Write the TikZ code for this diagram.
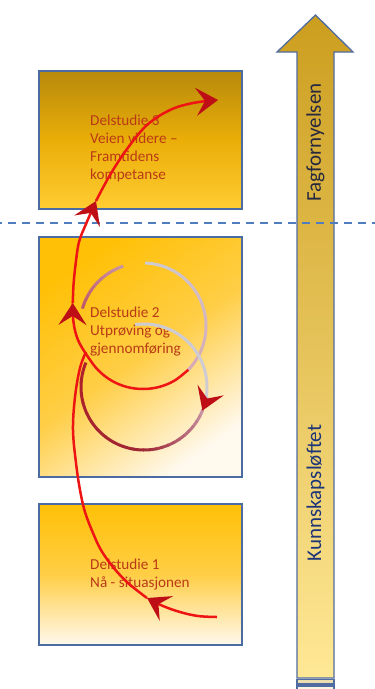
\documentclass[tikz,border=0pt]{standalone}
\usepackage{fontspec}
\setmainfont{Carlito}
\usetikzlibrary{arrows.meta}
\definecolor{boxline}{RGB}{74,108,162}
\definecolor{goldA}{RGB}{184,138,12}
\definecolor{goldB}{RGB}{234,174,8}
\definecolor{goldC}{RGB}{255,204,50}
\definecolor{goldD}{RGB}{255,192,6}
\definecolor{goldM}{RGB}{255,206,70}
\definecolor{paleend}{RGB}{255,249,238}
\definecolor{arrowtop}{RGB}{204,158,30}
\definecolor{arrowbot}{RGB}{255,232,150}
\definecolor{arrowline}{RGB}{80,108,160}
\definecolor{stripA}{RGB}{235,222,175}
\definecolor{stripB}{RGB}{250,244,228}
\definecolor{dashblue}{RGB}{79,125,190}
\definecolor{spiral}{RGB}{238,20,20}
\definecolor{chev}{RGB}{190,14,22}
\definecolor{boxtext}{RGB}{186,58,24}
\definecolor{fagtext}{RGB}{38,40,64}
\definecolor{kuntext}{RGB}{28,52,120}
\definecolor{ringgray}{RGB}{206,204,210}
\definecolor{ringpink}{RGB}{214,170,182}
\definecolor{ringmauve}{RGB}{200,150,166}
\definecolor{ringred}{RGB}{190,85,105}
\definecolor{ringmaroon}{RGB}{158,38,52}
\definecolor{ringdeep}{RGB}{176,32,42}

\newcommand\ringarc[7]{%
  \foreach \k in {0,...,11}{%
    \pgfmathsetmacro\ringa{#4+(#5-#4)*\k/12}%
    \pgfmathsetmacro\ringb{#4+(#5-#4)*(\k+1)/12+0.8}%
    \pgfmathsetmacro\ringp{100-100*(\k+0.5)/12}%
    \draw[draw={#6!\ringp!#7}, ringline] plot[domain=\ringa:\ringb, samples=5] ({#1+#3*cos(\x)},{#2+#3*sin(\x)});
  }}

\begin{document}
\begin{tikzpicture}[x=1pt,y=-1pt,
  boxbase/.style={draw=boxline, line width=1.3pt, minimum width=203pt, inner sep=0pt},
  stagetext/.style={text=boxtext, align=left, inner sep=0pt, font=\fontsize{15.2}{18}\selectfont},
  arrowtext/.style={rotate=90, inner sep=0pt, font=\fontsize{21}{21}\selectfont},
  ringline/.style={line width=3pt},
  redline/.style={draw=spiral, line width=2.5pt},
  chevarrow/.style={-{Stealth[length=22pt, width=28pt, inset=9pt, color=chev]}}
]
\useasboundingbox (0,0) rectangle (375,689);

% stage boxes
\node[boxbase, minimum height=138pt, top color=goldA, bottom color=goldC, middle color=goldB] (d3) at (140.5,140) {};
\node[boxbase, minimum height=240pt, top color=goldD, bottom color=paleend, middle color=goldM, shading angle=35] (d2) at (140.5,357) {};
\node[boxbase, minimum height=141pt, top color=goldD, bottom color=paleend, middle color=goldM] (d1) at (140.5,574.5) {};

% big arrow
\shade[top color=arrowtop, bottom color=arrowbot, draw=arrowline, line width=1.3pt]
  (315.5,15) coordinate (tip) -- (353,52) -- (334,52) -- (334,678) -- (297,678) -- (297,52) -- (277,52) -- cycle;
\draw[arrowline, line width=1.3pt, fill=stripA] (297,679.5) rectangle (334,684);
\draw[arrowline, line width=1.3pt, fill=stripB] (297,686) rectangle (334,692);
\node[arrowtext, text=fagtext] (fag) at (315.5,142.5) {Fagfornyelsen};
\node[arrowtext, text=kuntext] (kun) at (315.5,493) {Kunnskapsløftet};

% dashed divider
\draw[dashblue, line width=2pt, dash pattern=on 7.5pt off 6.5pt, dash phase=6pt] (0,223) coordinate (dl) -- (375,223) coordinate (dr);

% stage texts
\node[stagetext, anchor=north west] (t3) at (90,115) {Delstudie 3\\Veien videre –\\Framtidens\\kompetanse};
\node[stagetext, anchor=north west] (t2) at (90,307) {Delstudie 2\\Utprøving og\\gjennomføring};
\node[stagetext, anchor=north west] (t1) at (90,559) {Delstudie 1\\Nå - situasjonen};

% faded rings
\ringarc{143}{326}{63}{272}{404}{ringgray}{ringpink}
\ringarc{143}{326}{63}{196}{251}{ringred}{ringmauve}
\ringarc{144}{387}{63}{262}{372}{ringgray}{ringgray}
\ringarc{144}{387}{63}{381}{450}{ringmauve}{ringmaroon}
\ringarc{144}{387}{63}{450}{562}{ringmaroon}{ringdeep}
\coordinate (lcA) at (208.0,396.7);
\coordinate (lcB) at (202.4,410.6);
\draw[ringgray, ringline, chevarrow] (lcA) -- (lcB);

% spiral red path, lower part
\coordinate (s0) at (217,617);
\coordinate (s1) at (147,598);
\coordinate (s2) at (86,352);
\draw[redline, chevarrow] plot[smooth, tension=0.6] coordinates {(217,617) (198,616) (180,612) (163,606) (147,598)};
\draw[redline] plot[smooth, tension=0.6] coordinates {(147,598) (128,583) (113,567) (101,550) (93,533) (85,512) (80,490) (76,463) (73,430) (75,397) (80,368) (86,352)};

% spiral red path, upper part
\coordinate (u0) at (188.3,369.8);
\coordinate (u1) at (72.8,303);
\coordinate (u2) at (96,201);
\coordinate (u3) at (218,100);
\draw[redline, chevarrow] plot[smooth, tension=0.6] coordinates {(188.3,369.8) (174.5,380.6) (159.3,386.9) (143,389) (126.7,386.9) (111.5,380.6) (98.5,370.5) (88.4,357.5) (78,340) (73.5,322) (72.8,303)};
\draw[redline, chevarrow] plot[smooth, tension=0.6] coordinates {(72.8,303) (73.5,285) (75.5,265) (79,242) (86,224) (96,201)};
\draw[redline, chevarrow] plot[smooth, tension=0.6] coordinates {(96,201) (110,175) (127,149) (147,125) (170,110) (193,103) (218,100)};
\end{tikzpicture}
\end{document}
